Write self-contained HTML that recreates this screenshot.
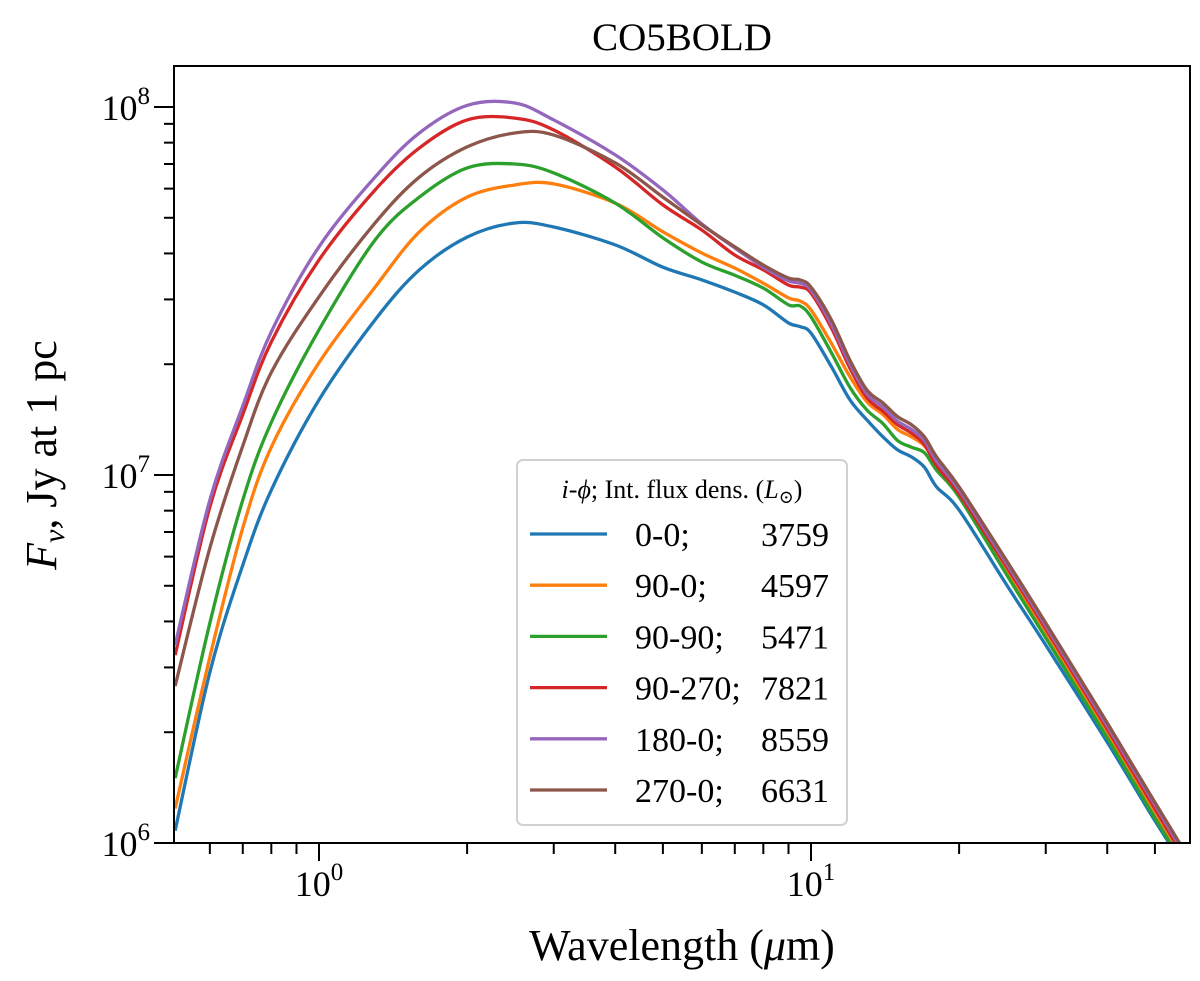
<!DOCTYPE html>
<html><head><meta charset="utf-8"><style>
html,body{margin:0;padding:0;background:#fff;}
svg{display:block;font-family:"Liberation Serif","DejaVu Serif",serif;}
</style></head><body>
<svg id="chart" width="1200" height="981" viewBox="0 0 1200 981" xmlns="http://www.w3.org/2000/svg">
<defs><clipPath id="plotclip"><rect x="174" y="66" width="1016" height="777"/></clipPath></defs>
<text x="682" y="50" font-size="39" text-anchor="middle">CO5BOLD</text>
<text x="682" y="960" font-size="44" text-anchor="middle">Wavelength (<tspan font-style="italic">μ</tspan>m)</text>
<text transform="translate(56,455) rotate(-90)" font-size="44" text-anchor="middle"><tspan font-style="italic">F</tspan><tspan font-style="italic" font-size="30" dy="8">ν</tspan><tspan dy="-8">, Jy at 1 pc</tspan></text>
<g id="ticks"></g>
<g id="series" clip-path="url(#plotclip)"></g>
<rect x="174" y="66" width="1016" height="777" fill="none" stroke="#000" stroke-width="2"/>
<g id="legend">
<rect x="517" y="460" width="330" height="365" rx="6" fill="#fff" fill-opacity="0.85" stroke="#d0d0d0" stroke-width="2"/>
<text x="682" y="498" font-size="26" text-anchor="middle"><tspan font-style="italic">i</tspan>-<tspan font-style="italic">ϕ</tspan>; Int. flux dens. (<tspan font-style="italic">L</tspan><tspan font-size="18" dy="5">⊙</tspan><tspan dy="-5">)</tspan></text>
</g>
</svg>
<script>
const wavelengths=[0.51,0.6,0.7,0.8,1.0,1.3,1.6,2.0,2.5,3.0,4.0,5.0,6.0,7.0,8.0,9.0,9.5,10,11,12,13,14,15,16,17,18,20,25,30,40,50,58];
// flux in units of 1e6 Jy
const flux00=[1.08,2.91,5.69,9.1,16.0,26.4,36.1,44.3,48.4,47.2,42.2,36.7,33.9,31.4,29.0,25.9,25.3,24.3,19.7,16.0,14.1,12.7,11.7,11.2,10.5,9.28,8.03,5.02,3.45,1.88,1.15,0.845];
const flux900=[1.24,3.20,7.18,11.9,20.2,32.4,45.8,56.9,61.4,61.8,54.8,45.8,40.1,36.5,33.2,30.3,29.7,28.1,22.8,18.5,15.8,14.6,13.3,12.7,12.0,10.7,8.94,5.52,3.72,1.99,1.21,0.866];
const flux9090=[1.50,3.96,8.55,13.9,24.8,43.5,56.9,68.3,70.0,66.2,54.8,44.1,37.9,34.9,32.2,29.0,28.8,26.9,21.5,17.3,15.0,13.8,12.4,11.9,11.5,10.3,8.71,5.35,3.61,1.93,1.17,0.845];
const flux90270=[3.24,8.19,14.6,23.0,38.4,59.5,77.4,92.2,93.3,86.6,68.7,54.2,46.3,39.6,36.1,32.8,32.4,31.2,25.1,19.5,16.2,14.9,13.7,13.0,12.1,10.6,8.88,5.62,3.82,2.04,1.24,0.89];
const flux1800=[3.45,8.55,15.4,24.5,41.7,64.5,85.0,101,102.5,92.2,74.1,59.5,48.1,41.4,36.7,33.7,33.2,31.8,25.7,20.0,16.6,15.3,14.0,13.3,12.4,10.9,9.1,5.73,3.89,2.08,1.27,0.91];
const flux2700=[2.67,6.33,12.0,19.0,30.5,48.4,64.5,77.9,85.0,83.9,70.5,56.9,47.8,41.7,37.2,34.3,33.9,32.4,26.4,20.5,17.0,15.7,14.4,13.7,12.7,11.2,9.28,5.84,3.96,2.12,1.29,0.93];
const seriesNames=["0-0;","90-0;","90-90;","90-270;","180-0;","270-0;"];
const seriesLum=["3759","4597","5471","7821","8559","6631"];
const xTickLabels=["0","1"];
const yTickLabels=["6","7","8"];

const NS="http://www.w3.org/2000/svg";
const colors=["#1f77b4","#ff7f0e","#2ca02c","#d62728","#9467bd","#8c564b"];
const allFlux=[flux00,flux900,flux9090,flux90270,flux1800,flux2700];
const L=174,R=1190,T=66,B=843;
const xMinLog=-0.2947,xMaxLog=1.7703,yMinLog=6,yMaxLog=8.1114;
function xs(l){return L+(Math.log10(l)-xMinLog)/(xMaxLog-xMinLog)*(R-L);}
function ys(f){return B-(Math.log10(f*1e6)-yMinLog)/(yMaxLog-yMinLog)*(B-T);}
function mk(tag,attrs,parent){const e=document.createElementNS(NS,tag);for(const k in attrs)e.setAttribute(k,attrs[k]);parent.appendChild(e);return e;}

const tg=document.getElementById('ticks');
for(let d=-1;d<=1;d++){for(let m=1;m<=9;m++){const v=m*Math.pow(10,d);const lv=Math.log10(v);if(lv<xMinLog-1e-6||lv>xMaxLog+1e-6)continue;const x=xs(v);const len=m===1?18:11;
const t=mk('line',{x1:x,x2:x,y1:B,y2:B+len,stroke:'#000','stroke-width':2},tg);

}}
xTickLabels.forEach(function(p){const x=xs(Math.pow(10,+p));const tx=mk('text',{x:x,y:896,'font-size':36,'text-anchor':'middle'},tg);


tx.innerHTML='10<tspan font-size="25" dy="-16">'+p+'</tspan>';});
for(let d=6;d<=8;d++){for(let m=1;m<=9;m++){const lv=d+Math.log10(m);if(lv>yMaxLog+1e-6)continue;const y=ys(m*Math.pow(10,d)/1e6);const len=m===1?20:10;
const t=mk('line',{x1:L-len,x2:L,y1:y,y2:y,stroke:'#000','stroke-width':2},tg);

}}
yTickLabels.forEach(function(p){const y=ys(Math.pow(10,+p)/1e6);const tx=mk('text',{x:150,y:y+13,'font-size':36,'text-anchor':'end'},tg);


tx.innerHTML='10<tspan font-size="25" dy="-16">'+p+'</tspan>';});

const sg=document.getElementById('series');
function pathFor(fl){const pts=wavelengths.map(function(w,i){return [xs(w),ys(fl[i])];});
let d='M'+pts[0][0].toFixed(2)+','+pts[0][1].toFixed(2);
for(let i=0;i<pts.length-1;i++){const p0=pts[Math.max(0,i-1)],p1=pts[i],p2=pts[i+1],p3=pts[Math.min(pts.length-1,i+2)];
const c1x=p1[0]+(p2[0]-p0[0])/6,c1y=p1[1]+(p2[1]-p0[1])/6,c2x=p2[0]-(p3[0]-p1[0])/6,c2y=p2[1]-(p3[1]-p1[1])/6;
d+='C'+c1x.toFixed(2)+','+c1y.toFixed(2)+' '+c2x.toFixed(2)+','+c2y.toFixed(2)+' '+p2[0].toFixed(2)+','+p2[1].toFixed(2);}
return d;}
const lg=document.getElementById('legend');
allFlux.forEach(function(fl,i){
const p=mk('path',{d:pathFor(fl),fill:'none',stroke:colors[i],'stroke-width':3.3,'stroke-linejoin':'round'},sg);


const y=534+i*51.2;
const ln=mk('line',{x1:530,x2:607,y1:y,y2:y,stroke:colors[i],'stroke-width':3.3},lg);


const t1=mk('text',{x:635,y:y+12,'font-size':34},lg);


t1.textContent=seriesNames[i];
const t2=mk('text',{x:829,y:y+12,'font-size':34,'text-anchor':'end'},lg);


t2.textContent=seriesLum[i];
});
</script>
</body></html>
